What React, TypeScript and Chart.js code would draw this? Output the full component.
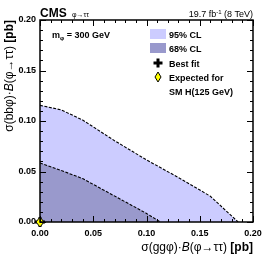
import React, { useEffect, useRef } from "react";
import { Chart, registerables } from "chart.js";

Chart.register(...registerables);

// 95% CL contour boundary
const ggX95 = [0, 0.02, 0.04, 0.07, 0.1, 0.13, 0.16, 0.186];
const bbY95 = [0.1155, 0.111, 0.101, 0.0805, 0.0615, 0.044, 0.0255, 0];
// 68% CL contour boundary
const ggX68 = [0, 0.02, 0.04, 0.06, 0.08, 0.1, 0.113];
const bbY68 = [0.0585, 0.051, 0.043, 0.0315, 0.02, 0.0085, 0];
// best fit and SM expectation
const bestFit = [{ x: 0, y: 0 }];
const smExpected = [{ x: 0, y: 0 }];
// ticks
const tickValues = [0, 0.05, 0.1, 0.15, 0.2];
const axisMin = 0;
const axisMax = 0.2;

const FONT = "'Liberation Sans', Arial, Helvetica, sans-serif";
const C95 = "rgb(204,204,255)";
const C68 = "rgb(153,153,204)";

function makeDiamond(hw: number, hh: number): HTMLCanvasElement {
  const c = document.createElement("canvas");
  c.width = hw * 2 + 2;
  c.height = hh * 2 + 2;
  const g = c.getContext("2d")!;
  g.beginPath();
  g.moveTo(hw + 1, 1);
  g.lineTo(hw * 2 + 1, hh + 1);
  g.lineTo(hw + 1, hh * 2 + 1);
  g.lineTo(1, hh + 1);
  g.closePath();
  g.fillStyle = "#ffff00";
  g.fill();
  g.lineWidth = 1;
  g.strokeStyle = "#000";
  g.stroke();
  return c;
}

type Seg = { t: string; f: string; dy?: number };

function segWidth(ctx: CanvasRenderingContext2D, segs: Seg[]) {
  let w = 0;
  for (const s of segs) {
    ctx.font = s.f;
    w += ctx.measureText(s.t).width;
  }
  return w;
}

function drawSegs(ctx: CanvasRenderingContext2D, segs: Seg[], x: number, y: number) {
  let cx = x;
  ctx.textAlign = "left";
  ctx.textBaseline = "alphabetic";
  for (const s of segs) {
    ctx.font = s.f;
    ctx.fillText(s.t, cx, y + (s.dy || 0));
    cx += ctx.measureText(s.t).width;
  }
}

const decorPlugin = {
  id: "decor",
  afterDraw(chart: any) {
    const ctx: CanvasRenderingContext2D = chart.ctx;
    const { left, right, top, bottom } = chart.chartArea;
    const xs = chart.scales.x;
    const ys = chart.scales.y;
    ctx.save();
    ctx.fillStyle = "#000";
    ctx.strokeStyle = "#000";

    // ticks on all four sides
    ctx.lineWidth = 1;
    for (let i = 0; i <= 20; i++) {
      const v = axisMin + (i * (axisMax - axisMin)) / 20;
      const len = i % 5 === 0 ? 6 : 3;
      const px = Math.round(xs.getPixelForValue(v)) + 0.5;
      const py = Math.round(ys.getPixelForValue(v)) + 0.5;
      ctx.beginPath();
      ctx.moveTo(px, bottom);
      ctx.lineTo(px, bottom - len);
      ctx.moveTo(px, top);
      ctx.lineTo(px, top + len);
      ctx.moveTo(left, py);
      ctx.lineTo(left + len, py);
      ctx.moveTo(right, py);
      ctx.lineTo(right - len, py);
      ctx.stroke();
    }
    // frame
    ctx.lineWidth = 1.5;
    ctx.strokeRect(left, top, right - left, bottom - top);

    // header
    drawSegs(ctx, [{ t: "CMS", f: `bold 12px ${FONT}` }], left, 17);
    drawSegs(ctx, [{ t: "φ→ττ", f: `7px ${FONT}` }], left + 32, 17);
    const lumi: Seg[] = [
      { t: "19.7 fb", f: `9px ${FONT}` },
      { t: "-1", f: `6px ${FONT}`, dy: -3.5 },
      { t: " (8 TeV)", f: `9px ${FONT}` },
    ];
    drawSegs(ctx, lumi, right - segWidth(ctx, lumi), 17);

    // mass label
    drawSegs(
      ctx,
      [
        { t: "m", f: `bold 9px ${FONT}` },
        { t: "φ", f: `bold 6px ${FONT}`, dy: 2 },
        { t: " = 300 GeV", f: `bold 9px ${FONT}` },
      ],
      left + 12,
      38
    );

    // legend
    const lx = 150;
    ctx.fillStyle = C95;
    ctx.fillRect(lx, 29, 16, 10);
    ctx.fillStyle = C68;
    ctx.fillRect(lx, 43, 16, 10);
    ctx.fillStyle = "#000";
    ctx.fillRect(lx + 3.5, 61.5, 9, 3);
    ctx.fillRect(lx + 6.5, 58.5, 3, 9);
    ctx.drawImage(makeDiamond(3, 5), lx + 4, 71);
    ctx.fillStyle = "#000";
    const lf = `bold 9px ${FONT}`;
    drawSegs(ctx, [{ t: "95% CL", f: lf }], 169, 38);
    drawSegs(ctx, [{ t: "68% CL", f: lf }], 169, 52);
    drawSegs(ctx, [{ t: "Best fit", f: lf }], 169, 67);
    drawSegs(ctx, [{ t: "Expected for", f: lf }], 169, 81);
    drawSegs(ctx, [{ t: "SM H(125 GeV)", f: lf }], 169, 95);

    // axis titles
    const xt: Seg[] = [
      { t: "σ(ggφ)·", f: `12px ${FONT}` },
      { t: "B", f: `italic 12px ${FONT}` },
      { t: "(φ→ττ) ", f: `12px ${FONT}` },
      { t: "[pb]", f: `bold 12px ${FONT}` },
    ];
    drawSegs(ctx, xt, right - segWidth(ctx, xt), 251);
    const yt: Seg[] = [
      { t: "σ(bbφ)·", f: `12px ${FONT}` },
      { t: "B", f: `italic 12px ${FONT}` },
      { t: "(φ→ττ) ", f: `12px ${FONT}` },
      { t: "[pb]", f: `bold 12px ${FONT}` },
    ];
    ctx.translate(13, top);
    ctx.rotate(-Math.PI / 2);
    drawSegs(ctx, yt, -segWidth(ctx, yt), 0);
    ctx.restore();
  },
};

export default function App() {
  const ref = useRef<HTMLCanvasElement | null>(null);
  useEffect(() => {
    document.body.style.margin = "0";
    if (!ref.current) return;
    const tickFont = { family: FONT, size: 9, weight: "bold" as const };
    const chart = new Chart(ref.current, {
      type: "scatter",
      data: {
        datasets: [
          {
            label: "Expected",
            data: smExpected,
            pointStyle: makeDiamond(4, 5) as any,
            pointRadius: 5,
            clip: false as any,
            order: 0,
          },
          {
            label: "Best fit",
            data: bestFit,
            pointStyle: "cross",
            pointRadius: 5,
            borderWidth: 3,
            borderColor: "#000",
            clip: false as any,
            order: 1,
          },
          {
            label: "68% CL",
            data: ggX68.map((x, i) => ({ x, y: bbY68[i] })),
            showLine: true,
            fill: "origin",
            backgroundColor: C68,
            borderColor: "#000",
            borderWidth: 1.1,
            borderDash: [3, 1.5],
            pointRadius: 0,
            order: 2,
          },
          {
            label: "95% CL",
            data: ggX95.map((x, i) => ({ x, y: bbY95[i] })),
            showLine: true,
            fill: "origin",
            backgroundColor: C95,
            borderColor: "#000",
            borderWidth: 1.1,
            borderDash: [3, 1.5],
            pointRadius: 0,
            order: 3,
          },
        ],
      },
      options: {
        animation: false,
        responsive: false,
        maintainAspectRatio: false,
        layout: { padding: { top: 20, right: 13, left: 0, bottom: 0 } },
        plugins: { legend: { display: false }, tooltip: { enabled: false } },
        scales: {
          x: {
            type: "linear",
            min: axisMin,
            max: axisMax,
            afterBuildTicks: (s: any) => {
              s.ticks = tickValues.map((v) => ({ value: v }));
            },
            afterFit: (s: any) => {
              s.height = 33;
              s.paddingLeft = s.paddingRight = s.paddingTop = s.paddingBottom = 0;
            },
            grid: { display: false, drawTicks: false, tickLength: 0 },
            border: { display: false },
            ticks: {
              font: tickFont,
              color: "#000",
              padding: 6,
              maxRotation: 0,
              autoSkip: false,
              callback: (v: any) => Number(v).toFixed(2),
            },
          },
          y: {
            type: "linear",
            min: axisMin,
            max: axisMax,
            afterBuildTicks: (s: any) => {
              s.ticks = tickValues.map((v) => ({ value: v }));
            },
            afterFit: (s: any) => {
              s.width = 40;
              s.paddingLeft = s.paddingRight = s.paddingTop = s.paddingBottom = 0;
            },
            grid: { display: false, drawTicks: false, tickLength: 0 },
            border: { display: false },
            ticks: {
              font: tickFont,
              color: "#000",
              padding: 4,
              autoSkip: false,
              callback: (v: any) => Number(v).toFixed(2),
            },
          },
        },
      },
      plugins: [decorPlugin],
    });
    return () => chart.destroy();
  }, []);
  return (
    <div style={{ width: 266, height: 255 }}>
      <canvas ref={ref} width={266} height={255} style={{ display: "block" }} />
    </div>
  );
}
